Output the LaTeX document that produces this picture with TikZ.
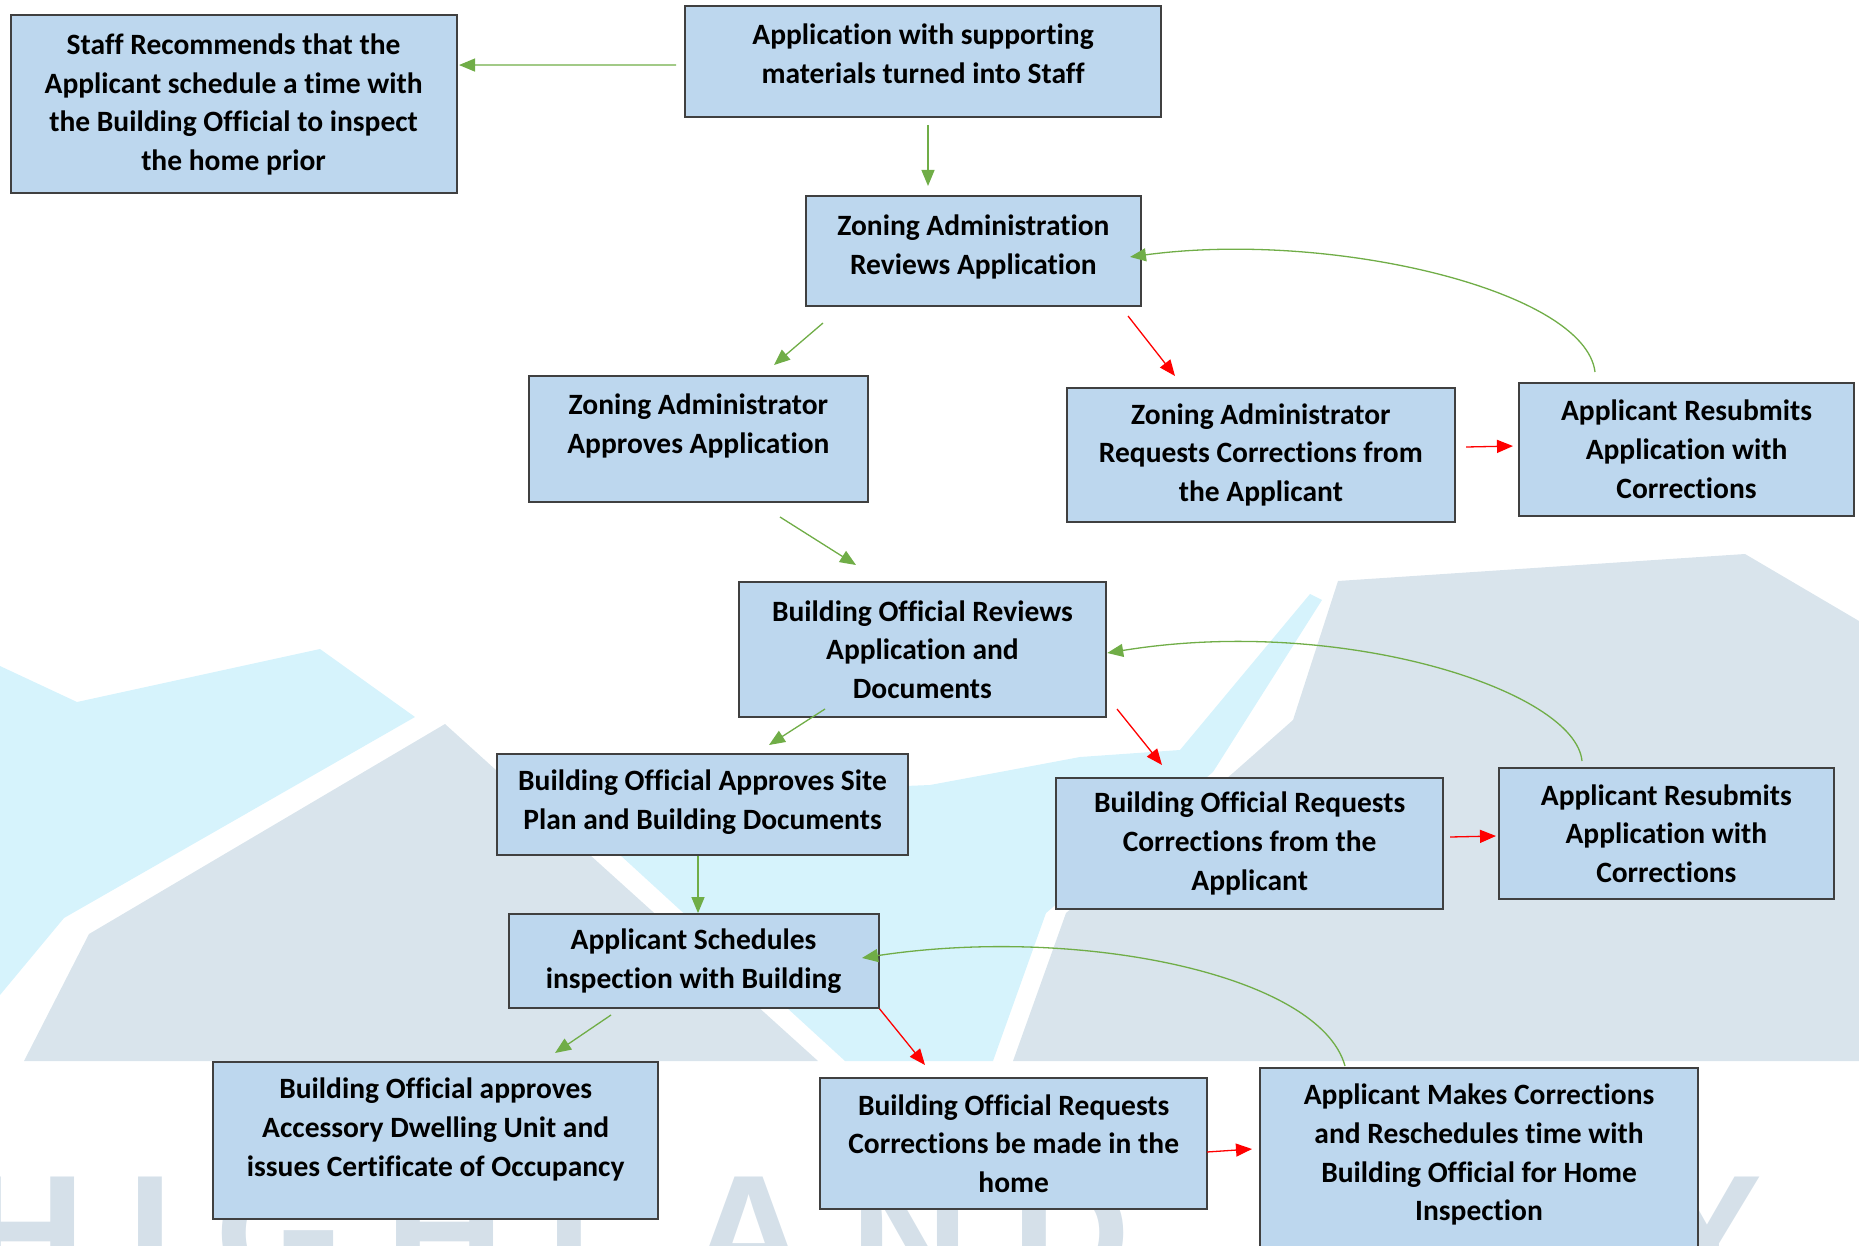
\documentclass[tikz,border=0pt]{standalone}
\usepackage{fontspec}
\setmainfont{Carlito}[Ligatures=NoCommon]
\newfontfamily\markfont{Liberation Sans}
\usetikzlibrary{arrows.meta,calc}

\definecolor{boxfill}{HTML}{BDD7EE}
\definecolor{boxline}{HTML}{404040}
\definecolor{okgreen}{HTML}{70AD47}
\definecolor{fixred}{HTML}{FF0000}
\definecolor{hillcyan}{HTML}{D6F3FC}
\definecolor{hillgray}{HTML}{D9E4EC}
\definecolor{markgray}{HTML}{D5E0E9}

\newcommand{\boxfont}{\fontsize{29.5}{38.7}\selectfont\bfseries}
\newcommand{\liftby}[1]{\rule[-#1]{0pt}{#1}}
\newcommand{\gap}{\kern42pt}

\tikzset{
  stepbox/.style={draw=boxline, line width=2pt, fill=boxfill, align=center,
    font=\boxfont, inner sep=0pt},
  yes/.style={draw=okgreen, line width=1.3pt, -{Triangle[length=16pt,width=13pt]}},
  fix/.style={draw=fixred, line width=1.3pt, -{Triangle[length=16pt,width=13pt]}},
}

\begin{document}
\begin{tikzpicture}[x=1pt,y=-1pt]
  \useasboundingbox (0,0) rectangle (1859,1246);
  \clip (0,0) rectangle (1859,1246);

  % background hills and lettering
  \fill[hillcyan] (0,666) -- (77,702) -- (320,649) -- (415,717) -- (64,918)
    -- (0,995) -- cycle;
  \fill[hillcyan] (1310,594) -- (1322,600) -- (1213,772) -- (1046,913)
    -- (993,1061) -- (845,1061) -- (560,800) -- (930,785) -- (1000,772)
    -- (1080,757) -- (1180,750) -- cycle;
  \fill[hillgray] (445,724) -- (818,1061) -- (24,1061) -- (89,934) -- cycle;
  \fill[hillgray] (1338,581) -- (1745,554) -- (1859,621) -- (1859,1061)
    -- (1013,1061) -- (1066,913) -- (1233,773) -- (1293,720) -- cycle;
  \node[font=\markfont\bfseries\fontsize{165}{165}\selectfont, text=markgray,
    anchor=base west, inner sep=0pt] (mark) at (-34,1290)
    {H\gap I\gap G\gap H\gap L\gap A\gap N\gap D\gap\ \gap C\gap I\gap T\gap Y};

  % boxes
  \node[stepbox, minimum width=445.8, minimum height=177.9] (staff)
    at (233.6,104.4) {Staff Recommends that the\\Applicant schedule a time with\\
    the Building Official to inspect\\the home prior};
  \node[stepbox, minimum width=475.4, minimum height=111.5] (app)
    at (923,61.65) {Application with supporting\\materials turned into Staff\liftby{16pt}};
  \node[stepbox, minimum width=334.3, minimum height=110.3] (zarev)
    at (973.35,250.75) {Zoning Administration\\Reviews Application\liftby{12pt}};
  \node[stepbox, minimum width=339.1, minimum height=125.7] (zaapp)
    at (698.35,438.65) {Zoning Administrator\\Approves Application\liftby{30pt}};
  \node[stepbox, minimum width=387.7, minimum height=134] (zareq)
    at (1260.85,454.7) {Zoning Administrator\\Requests Corrections from\\the Applicant};
  \node[stepbox, minimum width=335.5, minimum height=132.7] (res1)
    at (1686.55,449.35) {Applicant Resubmits\\Application with\\Corrections};
  \node[stepbox, minimum width=367.6, minimum height=135.2] (borev)
    at (922.4,649.7) {Building Official Reviews\\Application and\\Documents};
  \node[stepbox, minimum width=411.4, minimum height=100.8] (boapp)
    at (702.5,804.4) {Building Official Approves Site\\Plan and Building Documents\liftby{9pt}};
  \node[stepbox, minimum width=386.5, minimum height=131.6] (boreq)
    at (1249.65,843.6) {Building Official Requests\\Corrections from the\\Applicant};
  \node[stepbox, minimum width=335.5, minimum height=130.4] (res2)
    at (1666.35,833.5) {Applicant Resubmits\\Application with\\Corrections};
  \node[stepbox, minimum width=369.9, minimum height=93.7] (sched)
    at (693.55,960.95) {Applicant Schedules\\inspection with Building};
  \node[stepbox, minimum width=444.6, minimum height=156.5] (adu)
    at (435.7,1140.55) {Building Official approves\\Accessory Dwelling Unit and\\
    issues Certificate of Occupancy\liftby{27pt}};
  \node[stepbox, minimum width=386.6, minimum height=131.6] (homereq)
    at (1013.7,1143.5) {Building Official Requests\\Corrections be made in the\\home};
  \node[stepbox, minimum width=437.5, minimum height=194] (makes)
    at (1479.05,1165) {Applicant Makes Corrections\\and Reschedules time with\\
    Building Official for Home\\Inspection\liftby{25pt}};

  % straight connectors
  \draw[yes] ($(app.west)+(-8.3,3.4)$) -- ($(staff.north east)+(1.5,50.6)$);
  \draw[yes] ($(app.south)+(5,6.6)$) -- ($(zarev.north)+(-45.35,-8.6)$);
  \draw[yes] ($(zarev.south west)+(17.8,16.1)$) -- ($(zaapp.north)+(75.65,-9.8)$);
  \draw[fix] ($(zarev.south east)+(-13.5,9.1)$) -- ($(zareq.north west)+(109,-10.7)$);
  \draw[fix] ($(zareq.east)+(10.3,-7.7)$) -- ($(res1.west)+(-4.8,-3.3)$);
  \draw[yes] ($(zaapp.south)+(81.65,14.5)$) -- ($(borev.north west)+(118.4,-16.1)$);
  \draw[yes] ($(borev.south west)+(87.4,-9.3)$) -- ($(boapp.north)+(66.5,-8)$);
  \draw[fix] ($(borev.south east)+(9.8,-9.3)$) -- ($(boreq.north west)+(106.6,-11.8)$);
  \draw[fix] ($(boreq.east)+(6.1,-6.6)$) -- ($(res2.west)+(-1.6,2.5)$);
  \draw[yes] ($(boapp.south)+(-4.5,0)$) -- ($(sched.north)+(4.45,0)$);
  \draw[yes] ($(sched.south west)+(103.4,6.2)$) -- ($(adu.north)+(119.3,-8.3)$);
  \draw[fix] (sched.south east) -- ($(homereq.north west)+(105.6,-11.7)$);
  \draw[fix] ($(homereq.east)+(-1,8.5)$) -- ($(makes.north west)+(-7.3,82)$);

  % resubmission loops
  \draw[yes] ($(res1.north)+(-91.55,-10)$) .. controls (1585,290) and (1330,230)
    .. ($(zarev.east)+(-11.5,6.2)$);
  \draw[yes] ($(res2.north)+(-84.35,-6.3)$) .. controls (1575,690) and (1340,615)
    .. ($(borev.east)+(0,3.3)$);
  \draw[yes] ($(makes.north west)+(85.7,-1)$) .. controls (1320,975) and (1080,925)
    .. ($(sched.east)+(-17.5,-3)$);
\end{tikzpicture}
\end{document}
